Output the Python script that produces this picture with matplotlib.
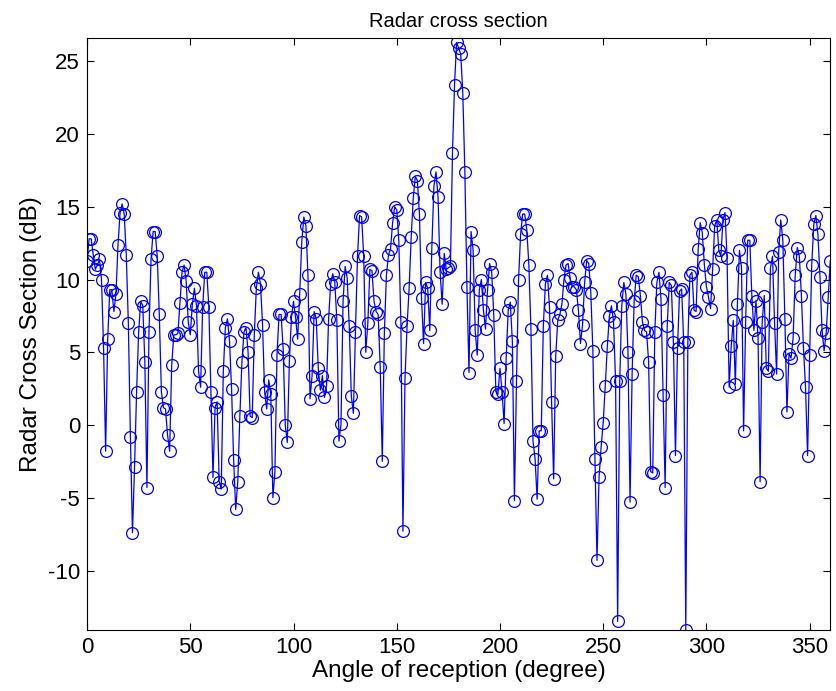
import matplotlib
matplotlib.use("Agg")
import matplotlib.pyplot as plt
import numpy as np

plt.rcParams.update({
    "font.family": ["Liberation Sans", "DejaVu Sans"],
    "font.size": 16,
    "axes.unicode_minus": False,
    "xtick.direction": "in",
    "ytick.direction": "in",
    "xtick.top": True,
    "ytick.right": True,
})

# angle of reception, one sample per degree
angle = np.arange(0, 361)

# radar cross section (dB) in 90-degree blocks
rcs_000_089 = [
    11.3, 12.8, 12.8, 11.7, 10.7, 11.0, 11.4, 10.0, 5.3, -1.8,
    5.9, 9.3, 9.3, 7.8, 9.0, 12.4, 14.6, 15.2, 14.5, 11.7,
    7.0, -0.8, -7.4, -2.9, 2.3, 6.4, 8.5, 8.2, 4.3, -4.3,
    6.4, 11.4, 13.3, 13.3, 11.6, 7.6, 2.3, 1.2, 1.1, -0.7,
    -1.8, 4.1, 6.2, 6.2, 6.3, 8.4, 10.5, 11.0, 9.9, 7.1,
    6.2, 8.3, 9.4, 8.2, 3.7, 2.6, 8.1, 10.5, 10.5, 8.1,
    2.3, -3.6, 1.2, 1.6, -3.9, -4.4, 3.7, 6.7, 7.3, 5.8,
    2.5, -2.4, -5.8, -3.9, 0.6, 4.3, 6.4, 6.7, 5.0, 0.6,
    0.5, 6.2, 9.4, 10.5, 9.7, 6.9, 2.3, 1.1, 3.1, 2.1,
]
rcs_090_179 = [
    -5.0, -3.2, 4.8, 7.6, 7.6, 5.2, 0.0, -1.2, 4.4, 7.4,
    8.5, 7.4, 5.9, 9.0, 12.6, 14.3, 13.7, 10.3, 1.8, 3.4,
    7.8, 7.3, 3.9, 2.4, 3.4, 1.9, 2.7, 7.3, 9.7, 10.4,
    9.8, 7.2, -1.1, 0.05, 8.5, 10.9, 10.1, 6.8, 2.0, 0.8,
    6.4, 11.6, 14.4, 14.3, 11.6, 5.0, 7.0, 10.7, 10.6, 8.5,
    7.8, 7.6, 4.0, -2.5, 6.3, 10.3, 11.7, 12.1, 13.9, 15.0,
    14.8, 12.7, 7.1, -7.3, 3.2, 6.8, 9.4, 12.9, 15.6, 17.1,
    16.8, 14.5, 8.7, 5.6, 9.8, 9.4, 6.5, 12.2, 16.4, 17.4,
    15.7, 10.5, 8.3, 11.8, 10.7, 10.8, 10.9, 18.7, 23.4, 26.3,
]
rcs_180_269 = [
    25.9, 25.5, 22.8, 17.4, 9.5, 3.6, 13.3, 12.0, 6.5, 4.8,
    9.3, 10.0, 7.9, 6.6, 9.3, 11.1, 10.5, 7.55, 2.3, 2.1,
    3.9, 2.3, 0.1, 4.6, 7.9, 8.45, 5.75, -5.2, 3.0, 10.0,
    13.1, 14.5, 14.5, 13.4, 11.0, 6.6, -1.1, -2.3, -5.1, -0.4,
    -0.4, 6.8, 9.7, 10.3, 8.1, 1.6, -3.7, 4.75, 7.2, 7.6,
    8.3, 10.0, 11.0, 11.1, 10.1, 9.5, 9.5, 9.3, 7.9, 5.6,
    6.9, 9.8, 11.3, 11.1, 9.1, 5.1, -2.3, -9.3, -3.6, -1.5,
    0.15, 2.7, 5.4, 7.5, 8.2, 7.1, 3.0, -13.5, 3.0, 8.2,
    9.8, 9.0, 5.0, -5.3, 3.5, 8.55, 10.3, 10.2, 8.9, 7.1,
]
rcs_270_360 = [
    6.5, 6.4, 4.35, -3.2, -3.3, 6.4, 9.8, 10.5, 8.65, 2.05,
    -4.3, 6.8, 9.8, 9.6, 5.7, -2.1, 5.3, 9.2, 9.35, 5.7,
    -14.1, 5.7, 10.3, 10.5, 7.9, 7.8, 12.1, 13.9, 13.2, 11.0,
    9.5, 8.8, 8.0, 10.7, 13.7, 14.1, 12.0, 11.6, 14.1, 14.6,
    11.5, 2.6, 5.4, 7.2, 2.8, 8.3, 12.0, 10.8, -0.4, 7.1,
    12.7, 12.7, 8.85, 6.5, 8.55, 6.0, -3.9, 7.1, 8.9, 3.9,
    3.7, 10.8, 11.6, 7.0, 3.5, 11.9, 14.1, 12.7, 7.3, 0.9,
    4.9, 4.6, 6.0, 10.3, 12.2, 11.6, 8.9, 5.3, 2.6, -2.1,
    4.8, 11.0, 13.8, 14.4, 13.1, 10.2, 6.5, 5.1, 6.3, 8.8, 11.3,
]
rcs = np.array(rcs_000_089 + rcs_090_179 + rcs_180_269 + rcs_270_360)

fig = plt.figure(figsize=(8.37, 6.91), dpi=100)
ax = fig.add_axes([0.104, 0.088, 0.888, 0.857])

ax.plot(angle, rcs, color="blue", linewidth=0.9, marker="o",
        markersize=8.5, markerfacecolor="none", markeredgecolor="blue",
        markeredgewidth=0.9)

ax.set_xlim(0, 360)
ax.set_ylim(rcs.min(), rcs.max() + 0.3)
ax.set_xticks(np.arange(0, 351, 50))
ax.set_yticks(np.arange(-10, 26, 5))
ax.tick_params(length=5, width=0.8, pad=5, labelsize=16)
for spine in ax.spines.values():
    spine.set_linewidth(0.8)

ax.set_xlabel("Angle of reception (degree)", fontsize=17.5, labelpad=1)
ax.set_ylabel("Radar Cross Section (dB)", fontsize=17.5, labelpad=4)
ax.set_title("Radar cross section", fontsize=14.5, pad=8)

fig.savefig("out.png", dpi=100)
plt.close(fig)
